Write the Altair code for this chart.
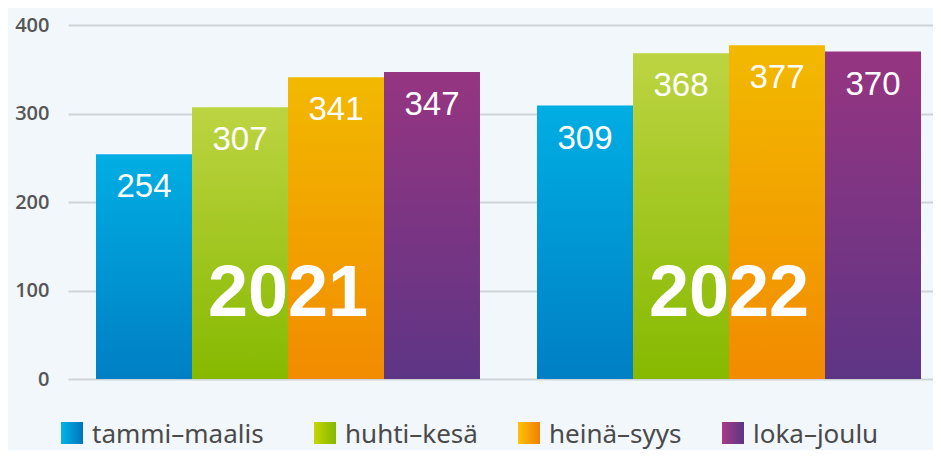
import altair as alt
import pandas as pd

years = ["2021", "2022"]
quarters = ["tammi–maalis", "huhti–kesä", "heinä–syys", "loka–joulu"]
values = {
    "tammi–maalis": [254, 309],
    "huhti–kesä": [307, 368],
    "heinä–syys": [341, 377],
    "loka–joulu": [347, 370],
}
y_ticks = [0, 100, 200, 300, 400]

bar_colors = {
    "tammi–maalis": ("#00aee3", "#007fc4"),
    "huhti–kesä": ("#bdd442", "#86b900"),
    "heinä–syys": ("#f2b900", "#f28b00"),
    "loka–joulu": ("#963581", "#5e3585"),
}
legend_colors = {
    "tammi–maalis": ("#00b5e8", "#0073bc"),
    "huhti–kesä": ("#c6d600", "#84b800"),
    "heinä–syys": ("#ffc300", "#f07f00"),
    "loka–joulu": ("#a83a87", "#5b3585"),
}
legend_x = [-7, 246, 450, 654]
legend_top = 397

rows = []
for q in quarters:
    for y, v in zip(years, values[q]):
        rows.append({"year": y, "q": q, "v": v})
df = pd.DataFrame(rows)
ydf = pd.DataFrame({"year": years})

W, H = 865, 354

xscale = alt.Scale(domain=years, paddingInner=0.1293, paddingOuter=0.04535, align=0.7)
xoscale = alt.Scale(domain=quarters, paddingInner=0, paddingOuter=0)
yscale = alt.Scale(domain=[0, 400], nice=False)

def grad(c1, c2, vertical=True):
    return alt.Gradient(
        gradient="linear",
        stops=[alt.GradientStop(offset=0, color=c1), alt.GradientStop(offset=1, color=c2)],
        x1=0, y1=0, x2=0 if vertical else 1, y2=1 if vertical else 0,
    )

base = alt.Chart(df)
layers = []
for i, q in enumerate(quarters):
    c1, c2 = bar_colors[q]
    b = base.transform_filter(alt.datum.q == q).mark_bar(color=grad(c1, c2)).encode(
        x=alt.X("year:N", scale=xscale, axis=None),
        xOffset=alt.XOffset("q:N", scale=xoscale),
        y=alt.Y("v:Q", scale=yscale,
                axis=alt.Axis(values=y_ticks, title=None, grid=True, gridColor="#cfd4d9",
                              gridWidth=2, domain=False, ticks=False, tickSize=0,
                              labelPadding=19, labelFont="Open Sans", labelFontWeight=600,
                              labelFontSize=20, labelColor="#555555")),
    )
    layers.append(b)

labels = base.mark_text(font="Liberation Sans", fontSize=33, color="white",
                        baseline="alphabetic", align="center", dy=43).encode(
    x=alt.X("year:N", scale=xscale),
    xOffset=alt.XOffset("q:N", scale=xoscale),
    y=alt.Y("v:Q", scale=yscale),
    text=alt.Text("v:Q"),
)
layers.append(labels)

yr = alt.Chart(ydf).mark_text(font="Liberation Sans", fontWeight="bold", fontSize=72,
                              color="white", baseline="alphabetic", align="center", dy=-63).encode(
    x=alt.X("year:N", scale=xscale),
    y=alt.datum(0),
    text="year:N",
)
layers.append(yr)

for q, lx in zip(quarters, legend_x):
    c1, c2 = legend_colors[q]
    sq = alt.Chart(ydf).mark_rect(color=grad(c1, c2, vertical=False)).encode(
        x=alt.value(lx), x2=alt.value(lx + 22), y=alt.value(legend_top), y2=alt.value(legend_top + 22),
    ).transform_filter(alt.datum.year == years[0])
    tx = alt.Chart(ydf).mark_text(text=q, font="Noto Sans", fontSize=26, color="#4a4a4a",
                                  align="left", baseline="alphabetic").encode(
        x=alt.value(lx + 31), y=alt.value(legend_top + 21),
    ).transform_filter(alt.datum.year == years[0])
    layers += [sq, tx]

chart = alt.layer(*layers).properties(
    width=W, height=H,
    autosize=alt.AutoSizeParams(type="none"),
    padding={"left": 60, "top": 17, "right": 0, "bottom": 71},
).configure(background="#f1f7fb").configure_view(stroke=None)

chart.save("out.html", embed_options={"renderer": "svg", "actions": False})
